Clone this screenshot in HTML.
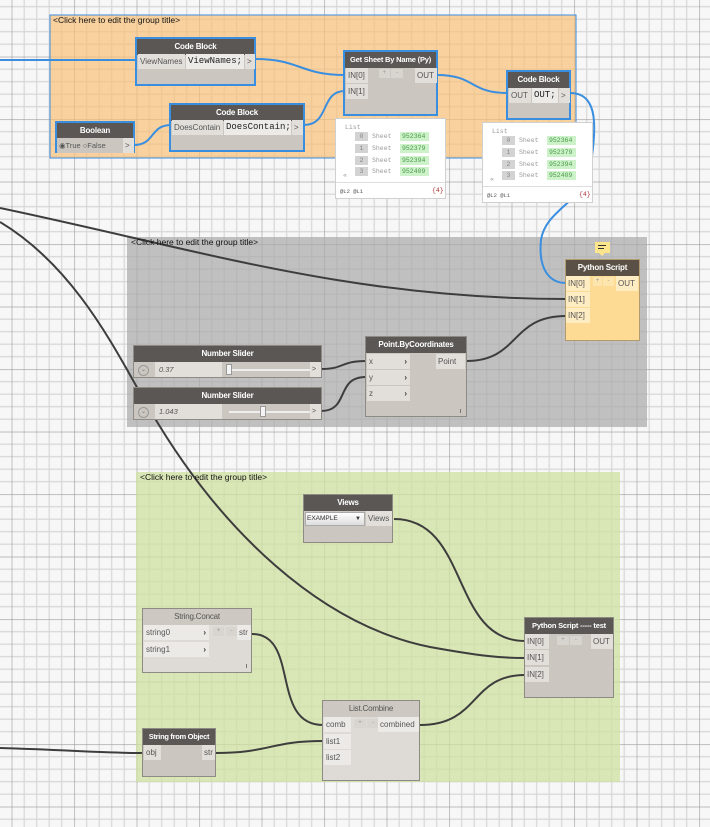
<!DOCTYPE html>
<html><head><meta charset="utf-8"><style>
*{box-sizing:border-box;margin:0;padding:0}
body{width:710px;height:827px;overflow:hidden;background:#f7f7f7;font-family:"Liberation Sans",sans-serif;position:relative}
svg.bg{position:absolute;left:0;top:0}
.n{position:absolute;background:#cbc7c0;border:1px solid #8e8a84}
.n.sel{border:2px solid #3a8ee0}
.h{position:absolute;left:0;right:0;top:0;height:16px;background:#5a5754;color:#fff;font-weight:bold;font-size:8px;letter-spacing:-0.2px;text-align:center;line-height:16px;white-space:nowrap;overflow:hidden}
.h.l{background:#cdc8c1;color:#555;font-weight:normal}
.a{position:absolute;font-size:8px;color:#555;background:#e2dfda;line-height:15px;height:15px;padding-left:2px;white-space:nowrap}
.c{position:absolute;font-family:"Liberation Mono",monospace;font-size:9px;color:#222;background:#ecebe8;line-height:15px;height:15px;padding-left:2px;white-space:nowrap}
.b{position:absolute;font-size:6px;color:#999;background:#d8d5d0;height:9px;text-align:center;line-height:9px}
.w{position:absolute;background:#fff;border:1px solid #d0d0d0;font-family:"Liberation Mono",monospace;font-size:6.5px;color:#999}
.w .i{position:absolute;background:#d3d3d3;width:13px;height:9px;text-align:center;line-height:9px;color:#888}
.w .s{position:absolute;line-height:9px}
.w .g{position:absolute;background:#cdf2c9;color:#4a9a4a;width:29px;height:9px;line-height:9px;padding-left:2px}
.t{position:absolute;font-size:8.5px;color:#111;white-space:nowrap}
</style></head><body>
<svg class="bg" width="710" height="827">
<defs>
<pattern id="gr" width="62.5" height="62.5" patternUnits="userSpaceOnUse" patternTransform="translate(11.7,-5.8)">
<g stroke="#d6d6d6" stroke-width="1.2">
<line x1="12.5" y1="0" x2="12.5" y2="62.5"/><line x1="25" y1="0" x2="25" y2="62.5"/><line x1="37.5" y1="0" x2="37.5" y2="62.5"/><line x1="50" y1="0" x2="50" y2="62.5"/>
<line y1="12.5" x1="0" y2="12.5" x2="62.5"/><line y1="25" x1="0" y2="25" x2="62.5"/><line y1="37.5" x1="0" y2="37.5" x2="62.5"/><line y1="50" x1="0" y2="50" x2="62.5"/>
</g>
<g stroke="#9a9a9a" stroke-width="1.2"><line x1="0" y1="0" x2="0" y2="62.5"/><line x1="0" y1="0" x2="62.5" y2="0"/></g>
</pattern>
</defs>
<rect width="710" height="827" fill="url(#gr)"/>
<rect x="50" y="15" width="526" height="143" fill="#f9c178" fill-opacity="0.7" stroke="#3a8ee0" stroke-width="1"/>
<rect x="127" y="237" width="520" height="190" fill="#ababab" fill-opacity="0.72"/>
<rect x="136" y="472" width="484" height="310" fill="#cfe0a0" fill-opacity="0.75"/>
<g fill="none" stroke="#3a8ee0" stroke-width="2">
<path d="M0,60 L137,60"/>
<path d="M255,59 C300,59 300,75 345,75"/>
<path d="M134,145 C155,145 150,125 171,125"/>
<path d="M304,125 C330,125 320,91 345,91"/>
<path d="M437,75 C475,75 470,93 507,93"/>
<path d="M570,93 C600,93 596,130 590,170 C585,200 545,210 541,240 C538,270 550,283 566,283"/>
</g>
<g fill="none" stroke="#3d3d3d" stroke-width="2">
<path d="M0,208 C200,250 350,299 566,299"/>
<path d="M0,222 C80,270 120,360 150,410 C220,530 320,625 430,647 C480,656 500,658 525,658"/>
<path d="M321,369 C345,369 340,361 366,361"/>
<path d="M321,411 C350,411 335,377 366,377"/>
<path d="M466,361 C520,361 510,316 566,316"/>
<path d="M394,519 C470,519 450,641 525,641"/>
<path d="M252,634 C300,634 270,725 323,725"/>
<path d="M215,753 C270,753 270,741 323,741"/>
<path d="M0,748 C70,750 100,753 143,753"/>
<path d="M420,725 C480,725 470,675 525,675"/>
</g>
</svg>

<div class="t" style="left:53px;top:15px">&lt;Click here to edit the group title&gt;</div>
<div class="t" style="left:131px;top:237px">&lt;Click here to edit the group title&gt;</div>
<div class="t" style="left:140px;top:472px">&lt;Click here to edit the group title&gt;</div>

<div class="n sel" style="left:135px;top:37px;width:121px;height:49px">
<div class="h">Code Block</div>
<div class="a" style="left:1px;top:15px;width:47px">ViewNames</div>
<div class="c" style="left:49px;top:15px;width:58px">ViewNames;</div>
<div class="a" style="left:108px;top:15px;width:10px">&gt;</div>
</div>
<div class="n sel" style="left:55px;top:121px;width:80px;height:32px">
<div class="h">Boolean</div>
<div class="a" style="left:0;top:15px;width:66px;background:#cbc7c0;font-size:7.5px">◉True ○False</div>
<div class="a" style="left:66px;top:15px;width:11px">&gt;</div>
</div>
<div class="n sel" style="left:169px;top:103px;width:136px;height:49px">
<div class="h">Code Block</div>
<div class="a" style="left:1px;top:15px;width:51px">DoesContain</div>
<div class="c" style="left:53px;top:15px;width:67px">DoesContain;</div>
<div class="a" style="left:121px;top:15px;width:11px">&gt;</div>
</div>
<div class="n sel" style="left:343px;top:50px;width:95px;height:66px">
<div class="h" style="font-size:7.5px">Get Sheet By Name (Py)</div>
<div class="a" style="left:1px;top:16px;width:22px">IN[0]</div>
<div class="a" style="left:1px;top:32px;width:22px">IN[1]</div>
<div class="b" style="left:34px;top:17px;width:11px">+</div>
<div class="b" style="left:46px;top:17px;width:12px">-</div>
<div class="a" style="left:70px;top:16px;width:22px">OUT</div>
</div>
<div class="n sel" style="left:506px;top:70px;width:65px;height:50px">
<div class="h">Code Block</div>
<div class="a" style="left:1px;top:16px;width:22px">OUT</div>
<div class="c" style="left:24px;top:16px;width:26px">OUT;</div>
<div class="a" style="left:51px;top:16px;width:11px">&gt;</div>
</div>
<div class="w" style="left:335px;top:118px;width:111px;height:81px">
<div class="s" style="left:9px;top:4px">List</div>
<div class="i" style="left:19px;top:13px">0</div><div class="s" style="left:36px;top:13px">Sheet</div><div class="g" style="left:64px;top:13px">952364</div>
<div class="i" style="left:19px;top:25px">1</div><div class="s" style="left:36px;top:25px">Sheet</div><div class="g" style="left:64px;top:25px">952379</div>
<div class="i" style="left:19px;top:37px">2</div><div class="s" style="left:36px;top:37px">Sheet</div><div class="g" style="left:64px;top:37px">952394</div>
<div class="i" style="left:19px;top:48px">3</div><div class="s" style="left:36px;top:48px">Sheet</div><div class="g" style="left:64px;top:48px">952409</div>
<div class="s" style="left:7px;top:52px">«</div>
<div style="position:absolute;left:0;right:0;top:63px;border-top:1px solid #ddd"></div>
<div class="s" style="left:4px;top:68px;color:#555;font-size:5.5px">@L2 @L1</div>
<div class="s" style="left:96px;top:67px;color:#a33">{4}</div>
</div>
<div class="w" style="left:482px;top:122px;width:111px;height:81px">
<div class="s" style="left:9px;top:4px">List</div>
<div class="i" style="left:19px;top:13px">0</div><div class="s" style="left:36px;top:13px">Sheet</div><div class="g" style="left:64px;top:13px">952364</div>
<div class="i" style="left:19px;top:25px">1</div><div class="s" style="left:36px;top:25px">Sheet</div><div class="g" style="left:64px;top:25px">952379</div>
<div class="i" style="left:19px;top:37px">2</div><div class="s" style="left:36px;top:37px">Sheet</div><div class="g" style="left:64px;top:37px">952394</div>
<div class="i" style="left:19px;top:48px">3</div><div class="s" style="left:36px;top:48px">Sheet</div><div class="g" style="left:64px;top:48px">952409</div>
<div class="s" style="left:7px;top:52px">«</div>
<div style="position:absolute;left:0;right:0;top:63px;border-top:1px solid #ddd"></div>
<div class="s" style="left:4px;top:68px;color:#555;font-size:5.5px">@L2 @L1</div>
<div class="s" style="left:96px;top:67px;color:#a33">{4}</div>
</div>
<div style="position:absolute;left:595px;top:242px;width:15px;height:11px;background:#fde58c"></div>
<div style="position:absolute;left:599px;top:253px;width:0;height:0;border-left:3px solid transparent;border-right:3px solid transparent;border-top:3px solid #fde58c"></div>
<div style="position:absolute;left:598px;top:245px;width:8px;height:1px;background:#333"></div>
<div style="position:absolute;left:598px;top:248px;width:6px;height:1px;background:#333"></div>
<div class="n" style="left:565px;top:259px;width:75px;height:82px;background:#fedb94;border-color:#b09c70">
<div class="h" style="background:#5b5045">Python Script</div>
<div class="a" style="left:0;top:16px;width:24px;background:#feecc2">IN[0]</div>
<div class="a" style="left:0;top:32px;width:24px;background:#feecc2">IN[1]</div>
<div class="a" style="left:0;top:48px;width:24px;background:#feecc2">IN[2]</div>
<div class="b" style="left:27px;top:17px;width:9px;background:#fee4ad">+</div>
<div class="b" style="left:37px;top:17px;width:11px;background:#fee4ad">-</div>
<div class="a" style="left:50px;top:16px;width:22px;background:#feecc2">OUT</div>
</div>
<div class="n" style="left:133px;top:345px;width:189px;height:33px">
<div class="h">Number Slider</div>
<div style="position:absolute;left:4px;top:19px;width:11px;height:11px;border:1px solid #999;border-radius:50%;font-size:6px;color:#777;text-align:center;line-height:9px">⌄</div>
<div class="a" style="left:21px;top:16px;width:67px;font-style:italic;font-size:7.5px;padding-left:4px">0.37</div>
<div style="position:absolute;left:95px;top:23px;width:85px;height:2px;background:#eee"></div>
<div style="position:absolute;left:92px;top:18px;width:6px;height:11px;background:#f4f4f4;border:1px solid #999"></div>
<div class="a" style="left:176px;top:16px;width:11px;font-size:7px">&gt;</div>
</div>
<div class="n" style="left:133px;top:387px;width:189px;height:33px">
<div class="h">Number Slider</div>
<div style="position:absolute;left:4px;top:19px;width:11px;height:11px;border:1px solid #999;border-radius:50%;font-size:6px;color:#777;text-align:center;line-height:9px">⌄</div>
<div class="a" style="left:21px;top:16px;width:67px;font-style:italic;font-size:7.5px;padding-left:4px">1.043</div>
<div style="position:absolute;left:95px;top:23px;width:85px;height:2px;background:#eee"></div>
<div style="position:absolute;left:126px;top:18px;width:6px;height:11px;background:#f4f4f4;border:1px solid #999"></div>
<div class="a" style="left:176px;top:16px;width:11px;font-size:7px">&gt;</div>
</div>
<div class="n" style="left:365px;top:336px;width:102px;height:81px">
<div class="h">Point.ByCoordinates</div>
<div class="a" style="left:1px;top:17px;width:43px">x<span style="position:absolute;right:3px;font-weight:bold;color:#333">›</span></div>
<div class="a" style="left:1px;top:33px;width:43px">y<span style="position:absolute;right:3px;font-weight:bold;color:#333">›</span></div>
<div class="a" style="left:1px;top:49px;width:43px">z<span style="position:absolute;right:3px;font-weight:bold;color:#333">›</span></div>
<div class="a" style="left:70px;top:17px;width:29px">Point</div>
<div style="position:absolute;right:5px;bottom:3px;width:1px;height:4px;background:#777"></div>
</div>
<div class="n" style="left:303px;top:494px;width:90px;height:49px">
<div class="h">Views</div>
<div style="position:absolute;left:1px;top:17px;width:60px;height:14px;background:linear-gradient(#fff,#ddd);border:1px solid #aaa;font-size:6.5px;line-height:12px;padding-left:1px;color:#333">EXAMPLE<span style="position:absolute;right:3px;font-size:6px">▼</span></div>
<div class="a" style="left:62px;top:16px;width:26px">Views</div>
</div>
<div class="n" style="left:142px;top:608px;width:110px;height:65px;background:#dedbd6">
<div class="h l">String.Concat</div>
<div class="a" style="left:1px;top:16px;width:65px;background:#eceae6">string0<span style="position:absolute;right:3px;font-weight:bold;color:#333">›</span></div>
<div class="a" style="left:1px;top:33px;width:65px;background:#eceae6">string1<span style="position:absolute;right:3px;font-weight:bold;color:#333">›</span></div>
<div class="b" style="left:70px;top:18px;width:11px">+</div>
<div class="b" style="left:83px;top:18px;width:11px">-</div>
<div class="a" style="left:94px;top:16px;width:14px;background:#eceae6">str</div>
<div style="position:absolute;right:4px;bottom:4px;width:1px;height:4px;background:#777"></div>
</div>
<div class="n" style="left:524px;top:617px;width:90px;height:81px">
<div class="h" style="font-size:7.5px">Python Script ----- test</div>
<div class="a" style="left:0;top:16px;width:24px">IN[0]</div>
<div class="a" style="left:0;top:32px;width:24px">IN[1]</div>
<div class="a" style="left:0;top:49px;width:24px">IN[2]</div>
<div class="b" style="left:32px;top:18px;width:12px">+</div>
<div class="b" style="left:45px;top:18px;width:12px">-</div>
<div class="a" style="left:66px;top:16px;width:22px">OUT</div>
</div>
<div class="n" style="left:322px;top:700px;width:98px;height:81px;background:#dedbd6">
<div class="h l">List.Combine</div>
<div class="a" style="left:1px;top:16px;width:27px;background:#eceae6">comb</div>
<div class="a" style="left:1px;top:33px;width:27px;background:#eceae6">list1</div>
<div class="a" style="left:1px;top:49px;width:27px;background:#eceae6">list2</div>
<div class="b" style="left:31px;top:18px;width:12px">+</div>
<div class="b" style="left:44px;top:18px;width:12px">-</div>
<div class="a" style="left:55px;top:16px;width:41px;background:#eceae6">combined</div>
</div>
<div class="n" style="left:142px;top:728px;width:74px;height:49px">
<div class="h" style="font-size:7.5px;letter-spacing:-0.3px">String from Object</div>
<div class="a" style="left:1px;top:16px;width:17px">obj</div>
<div class="a" style="left:59px;top:16px;width:13px">str</div>
</div>
</body></html>
